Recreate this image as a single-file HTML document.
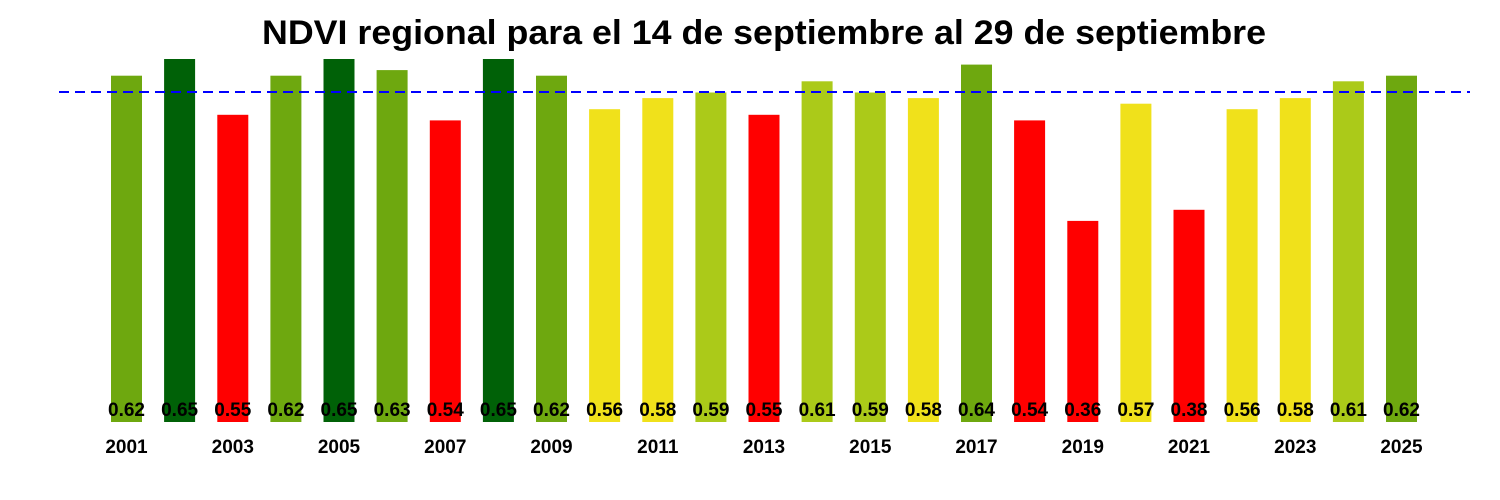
<!DOCTYPE html>
<html><head><meta charset="utf-8"><style>body{margin:0;background:#fff}svg{display:block}</style></head><body>
<svg width="1500" height="500" xmlns="http://www.w3.org/2000/svg" font-family="Liberation Sans, Arial, sans-serif" font-weight="bold">
<rect width="1500" height="500" fill="#fff"/>
<text x="764" y="44" font-size="34" text-anchor="middle" textLength="1004" lengthAdjust="spacingAndGlyphs">NDVI regional para el 14 de septiembre al 29 de septiembre</text>
<g>
<rect x="111" y="75.7" width="31" height="346.3" fill="#6ea80f"/>
<rect x="164.1" y="59" width="31" height="363" fill="#006107"/>
<rect x="217.3" y="114.8" width="31" height="307.2" fill="#ff0000"/>
<rect x="270.4" y="75.7" width="31" height="346.3" fill="#6ea80f"/>
<rect x="323.5" y="59" width="31" height="363" fill="#006107"/>
<rect x="376.6" y="70.1" width="31" height="351.9" fill="#6ea80f"/>
<rect x="429.8" y="120.4" width="31" height="301.6" fill="#ff0000"/>
<rect x="482.9" y="59" width="31" height="363" fill="#006107"/>
<rect x="536" y="75.7" width="31" height="346.3" fill="#6ea80f"/>
<rect x="589.1" y="109.2" width="31" height="312.8" fill="#f0e11b"/>
<rect x="642.3" y="98.1" width="31" height="323.9" fill="#f0e11b"/>
<rect x="695.4" y="92.5" width="31" height="329.5" fill="#abca19"/>
<rect x="748.5" y="114.8" width="31" height="307.2" fill="#ff0000"/>
<rect x="801.6" y="81.3" width="31" height="340.7" fill="#abca19"/>
<rect x="854.8" y="92.5" width="31" height="329.5" fill="#abca19"/>
<rect x="907.9" y="98.1" width="31" height="323.9" fill="#f0e11b"/>
<rect x="961" y="64.6" width="31" height="357.4" fill="#6ea80f"/>
<rect x="1014.1" y="120.4" width="31" height="301.6" fill="#ff0000"/>
<rect x="1067.3" y="220.9" width="31" height="201.1" fill="#ff0000"/>
<rect x="1120.4" y="103.7" width="31" height="318.3" fill="#f0e11b"/>
<rect x="1173.5" y="209.8" width="31" height="212.2" fill="#ff0000"/>
<rect x="1226.6" y="109.2" width="31" height="312.8" fill="#f0e11b"/>
<rect x="1279.8" y="98.1" width="31" height="323.9" fill="#f0e11b"/>
<rect x="1332.9" y="81.3" width="31" height="340.7" fill="#abca19"/>
<rect x="1386" y="75.7" width="31" height="346.3" fill="#6ea80f"/>
</g>
<line x1="59" y1="92" x2="1470" y2="92" stroke="#0000ff" stroke-width="2" stroke-dasharray="10,6"/>
<g font-size="19" text-anchor="middle">
<text x="126.5" y="416">0.62</text><text x="179.6" y="416">0.65</text><text x="232.8" y="416">0.55</text><text x="285.9" y="416">0.62</text><text x="339" y="416">0.65</text><text x="392.1" y="416">0.63</text><text x="445.3" y="416">0.54</text><text x="498.4" y="416">0.65</text><text x="551.5" y="416">0.62</text><text x="604.6" y="416">0.56</text><text x="657.8" y="416">0.58</text><text x="710.9" y="416">0.59</text><text x="764" y="416">0.55</text><text x="817.1" y="416">0.61</text><text x="870.3" y="416">0.59</text><text x="923.4" y="416">0.58</text><text x="976.5" y="416">0.64</text><text x="1029.6" y="416">0.54</text><text x="1082.8" y="416">0.36</text><text x="1135.9" y="416">0.57</text><text x="1189" y="416">0.38</text><text x="1242.1" y="416">0.56</text><text x="1295.3" y="416">0.58</text><text x="1348.4" y="416">0.61</text><text x="1401.5" y="416">0.62</text>
</g>
<g font-size="19" text-anchor="middle">
<text x="126.5" y="453">2001</text><text x="232.8" y="453">2003</text><text x="339" y="453">2005</text><text x="445.3" y="453">2007</text><text x="551.5" y="453">2009</text><text x="657.8" y="453">2011</text><text x="764" y="453">2013</text><text x="870.3" y="453">2015</text><text x="976.5" y="453">2017</text><text x="1082.8" y="453">2019</text><text x="1189" y="453">2021</text><text x="1295.3" y="453">2023</text><text x="1401.5" y="453">2025</text>
</g>
</svg>
</body></html>
